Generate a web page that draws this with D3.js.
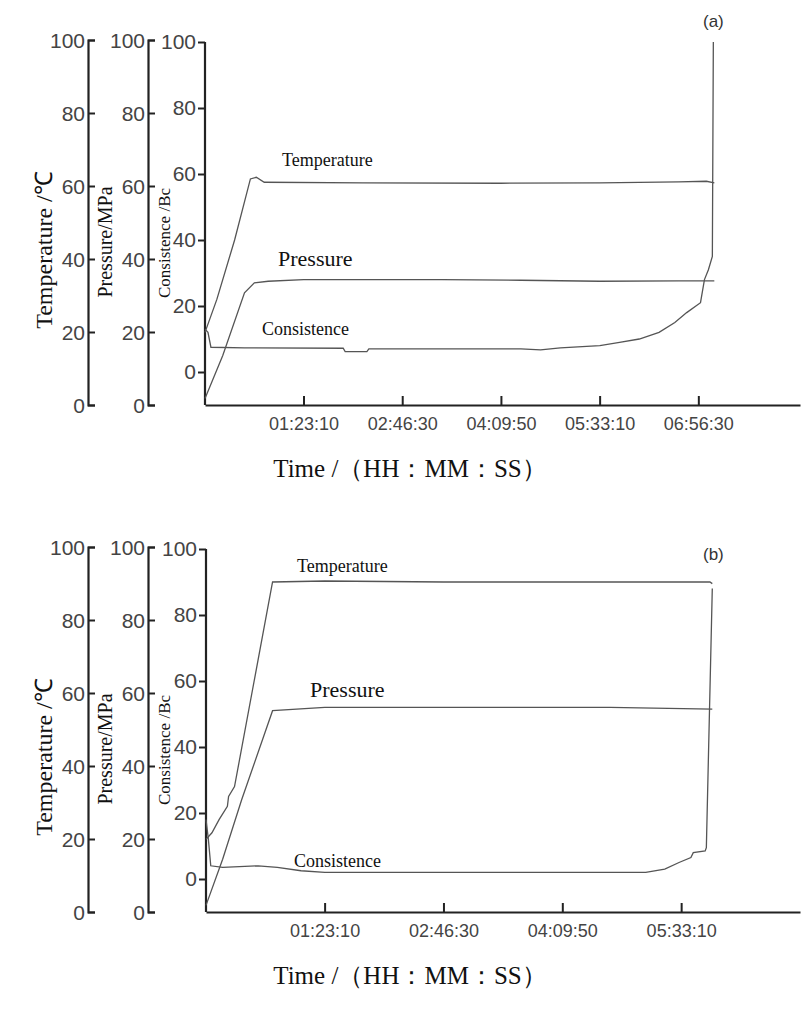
<!DOCTYPE html>
<html>
<head>
<meta charset="utf-8">
<script src="https://cdn.jsdelivr.net/npm/d3@7"></script>
<style>
  body { margin: 0; background: #fff; }
  .tick text { font-family: Arial, "Liberation Sans", sans-serif; fill: #444; }
  .serif { font-family: "Times New Roman", "Liberation Serif", serif; fill: #111; }
</style>
</head>
<body>
<script>
// time in seconds, values on the Consistence axis (Bc, -10..100)
const xTicksA = [4990, 9990, 14990, 19990, 24990];
const xTicksB = [4990, 9990, 14990, 19990];
const yTicks = [0, 20, 40, 60, 80, 100];

const tempA = [[0, 12], [600, 22], [1500, 40], [2300, 58.5], [2600, 59], [3000, 57.5], [8000, 57.3], [15000, 57.2], [20000, 57.3], [24000, 57.6], [25400, 57.8], [25800, 57.3]];
const presA = [[0, -8], [900, 5], [2000, 24], [2500, 27], [3200, 27.5], [5000, 28], [9000, 28], [12000, 28], [16000, 27.8], [20000, 27.5], [24000, 27.6], [25800, 27.6]];
const consA = [[0, 13], [150, 12], [300, 7.5], [2000, 7.3], [7000, 7.2], [7100, 6.2], [8200, 6.2], [8300, 7], [12000, 7], [16000, 7], [17000, 6.7], [18000, 7.3], [20000, 8], [21000, 9], [22000, 10], [23000, 12], [23800, 15], [24400, 18], [25100, 21], [25300, 28], [25500, 31], [25700, 35], [25750, 100]];

const tempB = [[0, 12], [250, 14], [550, 18], [900, 22], [950, 25], [1200, 28], [2800, 90], [5000, 90.3], [10000, 90], [15000, 90], [21200, 90], [21300, 89.5]];
const presB = [[0, -8], [700, 6], [1500, 24], [2800, 51], [5000, 52], [9000, 52], [13000, 52], [17000, 52], [21300, 51.5]];
const consB = [[0, 18], [100, 12], [200, 4], [700, 3.5], [2200, 4], [3000, 3.5], [4000, 2.5], [5000, 2], [10000, 2], [15000, 2], [18500, 2], [19300, 3], [19900, 5], [20400, 6.5], [20500, 8], [21000, 8.5], [21050, 9.5], [21300, 88]];

function panel(svg, o) {
  const g = svg.append("g");
  const x = d3.scaleLinear().domain([0, o.xMax]).range([o.left, 800]);
  const y = d3.scaleLinear().domain([-10, 100]).range([o.bottom, o.bottom - 363]);
  const yOuter = d3.scaleLinear().domain([0, 100]).range([o.bottom, o.bottom - 365]);
  const fmt = s => [Math.floor(s / 3600), Math.floor(s % 3600 / 60), s % 60].map(v => String(v).padStart(2, "0")).join(":");

  // x axis, ticks pointing up
  const xa = g.append("g").attr("transform", `translate(0,${o.bottom})`)
    .call(d3.axisBottom(x).tickValues(o.xTicks).tickFormat(fmt).tickSizeInner(-9).tickSizeOuter(0).tickPadding(12));
  xa.selectAll("text").attr("font-size", 18);

  // main consistence axis
  const ya = g.append("g").attr("transform", `translate(${o.left},0)`)
    .call(d3.axisLeft(y).tickValues(yTicks).tickSize(7).tickPadding(2));
  ya.selectAll("text").attr("font-size", 21);
  ya.select(".domain").attr("d", `M0,${y(100)}V${o.bottom}`);

  // the two outer axes, ticks pointing right
  [88, 148].forEach(px => {
    const a = g.append("g").attr("transform", `translate(${px},0)`)
      .call(d3.axisRight(yOuter).tickValues(yTicks).tickSize(7).tickFormat(""));
    a.selectAll(".tick").append("text").attr("x", -3).attr("dy", "0.35em")
      .attr("text-anchor", "end").attr("font-size", 21).text(d => d);
  });
  g.selectAll(".domain").attr("stroke", "#222").attr("stroke-width", 2.2);
  g.selectAll(".tick line").attr("stroke", "#222").attr("stroke-width", 2);

  const line = d3.line().x(d => x(d[0])).y(d => y(d[1]));
  [o.temp, o.pres, o.cons].forEach(s => {
    g.append("path").datum(s).attr("d", line).attr("fill", "none").attr("stroke", "#555").attr("stroke-width", 1.3);
  });

  o.labels.forEach(l => {
    g.append("text").attr("class", "serif").attr("x", l[1]).attr("y", l[2]).attr("font-size", l[3]).text(l[0]);
  });
  g.append("text").attr("x", o.tag[1]).attr("y", o.tag[2]).attr("font-family", "Arial, sans-serif").attr("font-size", 17).attr("fill", "#333").text(o.tag[0]);

  [["Temperature /\u2103", 52, 24, 155], ["Pressure/MPa", 112, 20, 163], ["Consistence /Bc", 170, 17, 162]].forEach(t => {
    g.append("text").attr("class", "serif").attr("transform", `translate(${t[1]},${o.bottom - t[3]}) rotate(-90)`)
      .attr("text-anchor", "middle").attr("font-size", t[2]).text(t[0]);
  });
  g.append("text").attr("class", "serif").attr("x", 410).attr("y", o.bottom + 72).attr("text-anchor", "middle")
    .attr("font-size", 25).text("Time /\uFF08HH\uFF1AMM\uFF1ASS\uFF09");
}

const svg = d3.select("body").append("svg").attr("width", 811).attr("height", 1013);
panel(svg, {
  left: 205, bottom: 405, xMax: 30140, xTicks: xTicksA,
  temp: tempA, pres: presA, cons: consA,
  labels: [["Temperature", 282, 166, 18], ["Pressure", 278, 266, 22], ["Consistence", 262, 335, 18]],
  tag: ["(a)", 703, 27]
});
panel(svg, {
  left: 206, bottom: 912, xMax: 24990, xTicks: xTicksB,
  temp: tempB, pres: presB, cons: consB,
  labels: [["Temperature", 297, 572, 18], ["Pressure", 310, 697, 22], ["Consistence", 294, 867, 18]],
  tag: ["(b)", 703, 560]
});
</script>
</body>
</html>
